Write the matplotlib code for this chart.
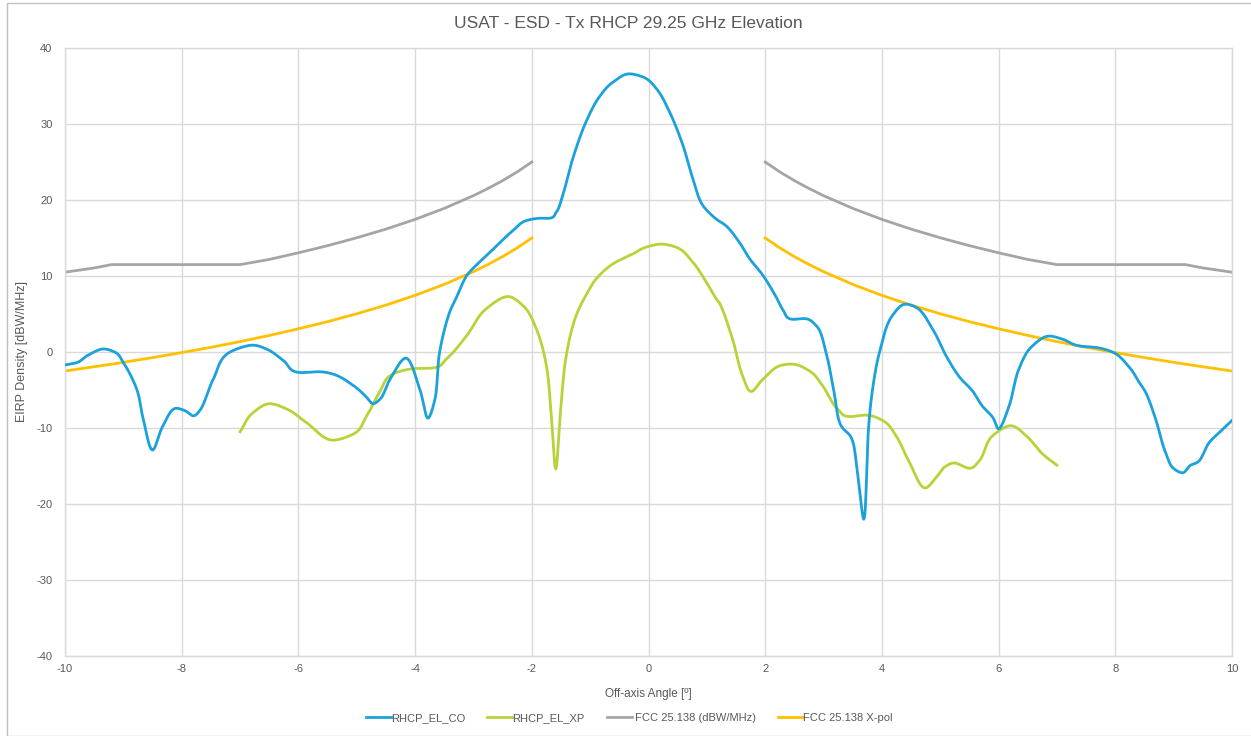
import matplotlib
matplotlib.use("Agg")
import matplotlib.pyplot as plt
from matplotlib.patches import Rectangle
import numpy as np

plt.rcParams['font.family'] = ['Liberation Sans', 'DejaVu Sans']
plt.rcParams['axes.unicode_minus'] = False

# ---- data ----
co_x = [-10.0, -9.8, -9.6, -9.34, -9.15, -9.0, -8.77, -8.66, -8.5, -8.32, -8.09, -7.95, -7.8,
        -7.69, -7.46, -7.17, -6.78, -6.55, -6.26, -5.98, -5.63, -5.41, -5.06, -4.85, -4.72,
        -4.6, -4.43, -4.16, -3.92, -3.78, -3.66, -3.58, -3.41, -3.29, -3.15, -3.07, -2.72,
        -2.32, -2.09, -1.87, -1.7, -1.58, -1.47, -1.3, -1.07, -0.84, -0.61, -0.33, -0.1,
        0.13, 0.36, 0.59, 0.76, 0.93, 1.16, 1.33, 1.56, 1.73, 1.96, 2.19, 2.3, 2.47, 2.67,
        2.87, 3.04, 3.18, 3.3, 3.47, 3.58, 3.69, 3.77, 3.84, 3.96, 4.18, 4.41, 4.58, 4.87,
        5.1, 5.33, 5.55, 5.72, 5.9, 6.0, 6.18, 6.35, 6.58, 6.87, 7.09, 7.38, 7.67, 7.95,
        8.24, 8.41, 8.52, 8.69, 8.86, 9.01, 9.15, 9.29, 9.41, 9.61, 9.81, 10.0]
co_y = [-1.7, -1.4, -0.4, 0.4, 0.0, -1.4, -4.9, -8.8, -12.9, -9.7, -7.4, -7.7, -8.4,
        -7.7, -3.6, 0.0, 0.9, 0.4, -1.1, -2.7, -2.6, -2.9, -4.4, -5.8, -6.8,
        -6.2, -3.6, -0.8, -4.9, -8.7, -6.2, 0.0, 5.2, 7.2, 9.6, 10.5, 13.1,
        16.0, 17.3, 17.6, 17.6, 18.4, 20.6, 25.4, 30.3, 33.6, 35.5, 36.6, 36.2,
        34.7, 31.6, 27.2, 22.8, 19.3, 17.5, 16.6, 14.4, 12.3, 10.1, 7.2, 5.6, 4.3, 4.4,
        3.5, 0.0, -5.3, -9.7, -11.2, -15.9, -22.0, -10.1, -4.9, 0.0, 4.8, 6.3, 5.9, 3.0,
        -0.5, -3.3, -5.1, -7.1, -8.6, -10.1, -7.1, -2.2, 0.8, 2.1, 1.7, 0.8, 0.6, 0.0,
        -2.0, -4.0, -5.3, -8.8, -13.2, -15.4, -15.9, -14.9, -14.5, -11.9, -10.4, -9.0]

xp_x = [-7.0, -6.78, -6.49, -6.2, -5.86, -5.41, -5.06, -4.83, -4.61, -4.38, -4.04, -3.69,
        -3.46, -3.12, -2.78, -2.41, -2.15, -1.92, -1.75, -1.67, -1.59, -1.51, -1.41, -1.24,
        -1.01, -0.9, -0.61, -0.27, -0.04, 0.22, 0.47, 0.76, 0.99, 1.16, 1.22, 1.44, 1.61,
        1.76, 1.96, 2.3, 2.47, 2.76, 2.98, 3.24, 3.44, 3.73, 4.01, 4.24, 4.47, 4.74, 4.93,
        5.1, 5.24, 5.5, 5.67, 5.9, 6.21, 6.47, 6.75, 7.0]
xp_y = [-10.5, -8.0, -6.8, -7.5, -9.3, -11.6, -10.8, -8.4, -5.3, -2.9, -2.2, -2.1,
        -0.9, 2.1, 5.7, 7.3, 6.1, 3.0, -1.8, -8.0, -15.4, -8.0, -0.5, 4.8,
        8.3, 9.6, 11.6, 12.9, 13.8, 14.2, 13.8, 11.8, 9.2, 7.0, 6.4, 1.7, -3.1,
        -5.2, -3.6, -1.7, -1.6, -2.5, -4.4, -7.5, -8.5, -8.3, -9.0, -11.0, -14.5, -17.9, -16.5,
        -15.0, -14.6, -15.3, -14.3, -11.0, -9.7, -11.0, -13.4, -14.9]

# FCC 25.138 masks, angles |theta| (right half; left half mirrored)
mask_theta = [2.0, 2.25, 2.5, 2.75, 3.0, 3.5, 4.0, 4.5, 5.0, 5.5, 6.0, 6.5, 7.0, 7.5, 8.0,
              8.5, 9.0, 9.2, 9.5, 10.0]
mask_co = [25.0, 23.70, 22.55, 21.52, 20.57, 18.90, 17.45, 16.17, 15.03, 13.99, 13.05, 12.18,
           11.5, 11.5, 11.5, 11.5, 11.5, 11.5, 11.06, 10.5]
mask_xp = [15.0, 13.70, 12.55, 11.52, 10.57, 8.90, 7.45, 6.17, 5.03, 3.99, 3.05, 2.18,
           1.37, 0.62, -0.08, -0.74, -1.36, -1.60, -1.94, -2.5]

labels = ["RHCP_EL_CO", "RHCP_EL_XP", " FCC 25.138 (dBW/MHz)", "FCC 25.138 X-pol"]
colors = ["#1BA1DB", "#B7D337", "#A5A5A5", "#FFC000"]


def smooth(xs, ys, n=12):
    """Centripetal Catmull-Rom rendering of a polyline (like a smoothed line chart)."""
    P = np.column_stack([xs, ys]).astype(float)
    if len(P) < 3:
        return P[:, 0], P[:, 1]
    P = np.vstack([2 * P[0] - P[1], P, 2 * P[-1] - P[-2]])
    outx, outy = [], []
    for i in range(1, len(P) - 2):
        p0, p1, p2, p3 = P[i - 1], P[i], P[i + 1], P[i + 2]
        t0 = 0.0
        t1 = t0 + np.linalg.norm(p1 - p0) ** 0.5 + 1e-9
        t2 = t1 + np.linalg.norm(p2 - p1) ** 0.5 + 1e-9
        t3 = t2 + np.linalg.norm(p3 - p2) ** 0.5 + 1e-9
        t = np.linspace(t1, t2, n, endpoint=False)[:, None]
        A1 = (t1 - t) / (t1 - t0) * p0 + (t - t0) / (t1 - t0) * p1
        A2 = (t2 - t) / (t2 - t1) * p1 + (t - t1) / (t2 - t1) * p2
        A3 = (t3 - t) / (t3 - t2) * p2 + (t - t2) / (t3 - t2) * p3
        B1 = (t2 - t) / (t2 - t0) * A1 + (t - t0) / (t2 - t0) * A2
        B2 = (t3 - t) / (t3 - t1) * A2 + (t - t1) / (t3 - t1) * A3
        C = (t2 - t) / (t2 - t1) * B1 + (t - t1) / (t2 - t1) * B2
        outx.extend(C[:, 0]); outy.extend(C[:, 1])
    outx.append(P[-2, 0]); outy.append(P[-2, 1])
    return np.array(outx), np.array(outy)


W, H = 1251, 736
fig = plt.figure(figsize=(W / 100, H / 100), dpi=100)
ax = fig.add_axes([65 / W, 1 - 656 / H, (1232 - 65) / W, (656 - 48) / H])

lw = 2.0
sx, sy = smooth(co_x, co_y)
l1, = ax.plot(sx, sy, color=colors[0], lw=lw, solid_joinstyle='round', zorder=4)
sx, sy = smooth(xp_x, xp_y)
l2, = ax.plot(sx, sy, color=colors[1], lw=lw, solid_joinstyle='round', zorder=3)

neg = [-t for t in mask_theta]
for vals, col, z in [(mask_co, colors[2], 2), (mask_xp, colors[3], 2)]:
    ax.plot(neg, vals, color=col, lw=lw, zorder=z)
    ax.plot(mask_theta, vals, color=col, lw=lw, zorder=z)
l3 = ax.lines[2]
l4 = ax.lines[4]

ax.set_xlim(-10, 10)
ax.set_ylim(-40, 40)
ax.set_xticks(np.arange(-10, 11, 2))
ax.set_yticks(np.arange(-40, 41, 10))
ax.grid(True, color="#D9D9D9", lw=1.0)
ax.set_axisbelow(True)
for s in ax.spines.values():
    s.set_color("#D9D9D9")
    s.set_linewidth(1.0)
ax.tick_params(length=0, labelsize=8, labelcolor="#595959")
ax.tick_params(axis='x', pad=6)
ax.tick_params(axis='y', pad=9)
ax.set_xlabel("Off-axis Angle [º]", fontsize=8.5, color="#595959")
ax.set_ylabel("EIRP Density [dBW/MHz]", fontsize=9, color="#595959")
ax.xaxis.set_label_coords(0.5, -(688 - 656) / (656 - 48))
ax.yaxis.set_label_coords((28 - 65) / (1232 - 65), 0.5)

fig.text(628 / W, 1 - 24 / H, "USAT - ESD - Tx RHCP 29.25 GHz Elevation",
         ha="center", va="center", fontsize=12.5, color="#595959")

fig.legend([l1, l2, l3, l4], labels, loc="center", bbox_to_anchor=(629 / W, 1 - 718 / H),
           ncol=4, frameon=False, fontsize=8, handlelength=2.25, handletextpad=0.0,
           columnspacing=2.0, labelcolor="#595959")

fig.patches.append(Rectangle((7 / W, 0), 1, 1 - 3 / H, transform=fig.transFigure,
                             fill=False, edgecolor="#BFBFBF", lw=1.0))

fig.savefig("out.png", dpi=100)
